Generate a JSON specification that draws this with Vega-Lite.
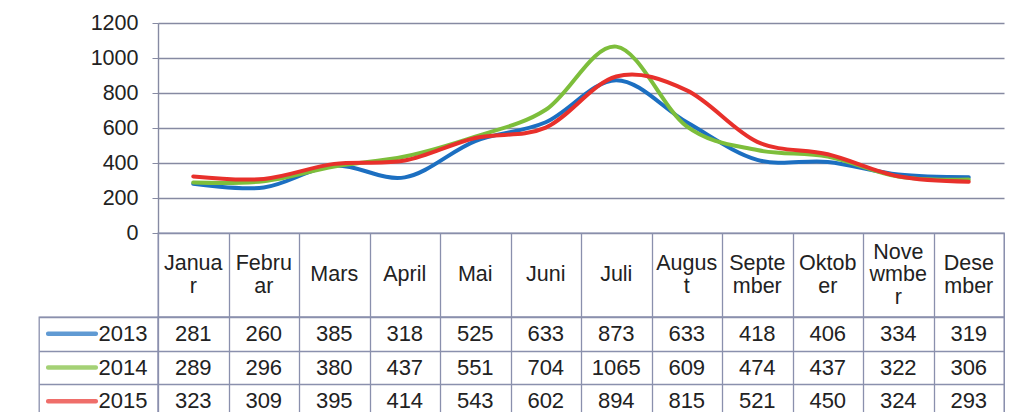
{
  "$schema": "https://vega.github.io/schema/vega-lite/v6.json",
  "padding": {"left": 38, "top": 12, "right": 0, "bottom": 0},
  "background": "white",
  "columns": 2,
  "spacing": 0,
  "bounds": "flush",
  "datasets": {
    "series": [
      {"month": "Januar", "year": "2013", "value": 281},
      {"month": "Februar", "year": "2013", "value": 260},
      {"month": "Mars", "year": "2013", "value": 385},
      {"month": "April", "year": "2013", "value": 318},
      {"month": "Mai", "year": "2013", "value": 525},
      {"month": "Juni", "year": "2013", "value": 633},
      {"month": "Juli", "year": "2013", "value": 873},
      {"month": "August", "year": "2013", "value": 633},
      {"month": "September", "year": "2013", "value": 418},
      {"month": "Oktober", "year": "2013", "value": 406},
      {"month": "November", "year": "2013", "value": 334},
      {"month": "Desember", "year": "2013", "value": 319},
      {"month": "Januar", "year": "2014", "value": 289},
      {"month": "Februar", "year": "2014", "value": 296},
      {"month": "Mars", "year": "2014", "value": 380},
      {"month": "April", "year": "2014", "value": 437},
      {"month": "Mai", "year": "2014", "value": 551},
      {"month": "Juni", "year": "2014", "value": 704},
      {"month": "Juli", "year": "2014", "value": 1065},
      {"month": "August", "year": "2014", "value": 609},
      {"month": "September", "year": "2014", "value": 474},
      {"month": "Oktober", "year": "2014", "value": 437},
      {"month": "November", "year": "2014", "value": 322},
      {"month": "Desember", "year": "2014", "value": 306},
      {"month": "Januar", "year": "2015", "value": 323},
      {"month": "Februar", "year": "2015", "value": 309},
      {"month": "Mars", "year": "2015", "value": 395},
      {"month": "April", "year": "2015", "value": 414},
      {"month": "Mai", "year": "2015", "value": 543},
      {"month": "Juni", "year": "2015", "value": 602},
      {"month": "Juli", "year": "2015", "value": 894},
      {"month": "August", "year": "2015", "value": 815},
      {"month": "September", "year": "2015", "value": 521},
      {"month": "Oktober", "year": "2015", "value": 450},
      {"month": "November", "year": "2015", "value": 324},
      {"month": "Desember", "year": "2015", "value": 293}
    ],
    "months": [
      {"month": "Januar", "header": "Janua\nr"},
      {"month": "Februar", "header": "Febru\nar"},
      {"month": "Mars", "header": "Mars"},
      {"month": "April", "header": "April"},
      {"month": "Mai", "header": "Mai"},
      {"month": "Juni", "header": "Juni"},
      {"month": "Juli", "header": "Juli"},
      {"month": "August", "header": "Augus\nt"},
      {"month": "September", "header": "Septe\nmber"},
      {"month": "Oktober", "header": "Oktob\ner"},
      {"month": "November", "header": "Nove\nwmbe\nr"},
      {"month": "Desember", "header": "Dese\nmber"}
    ],
    "years": [
      {"year": "2013"},
      {"year": "2014"},
      {"year": "2015"}
    ]
  },
  "concat": [
    {
      "width": 119,
      "height": 210,
      "view": {"stroke": null},
      "data": {"values": []},
      "mark": {"type": "text"},
      "encoding": {}
    },
    {
      "width": 846,
      "height": 210,
      "view": {"stroke": null},
      "data": {"name": "series"},
      "mark": {"type": "line", "interpolate": "cardinal", "strokeCap": "round"},
      "encoding": {
        "x": {
          "field": "month", "type": "ordinal",
          "sort": ["Januar","Februar","Mars","April","Mai","Juni","Juli","August","September","Oktober","November","Desember"],
          "scale": {"type": "point", "padding": 0.5},
          "axis": null
        },
        "y": {
          "field": "value", "type": "quantitative",
          "scale": {"domain": [0, 1200], "nice": false},
          "axis": {
            "values": [0, 200, 400, 600, 800, 1000, 1200],
            "format": "d",
            "title": null,
            "grid": true,
            "gridColor": "#868aa2",
            "gridWidth": 1.4,
            "domain": true,
            "domainColor": "#868aa2",
            "domainWidth": 1.4,
            "tickColor": "#868aa2",
            "tickSize": 6,
            "labelPadding": 14,
            "labelFont": "Liberation Sans",
            "labelFontSize": 21.5,
            "labelColor": "#222222"
          }
        },
        "color": {
          "field": "year", "type": "nominal",
          "scale": {"domain": ["2013","2014","2015"], "range": ["#1c6fc1","#7dbe3b","#e8302b"]},
          "legend": null
        },
        "strokeWidth": {
          "field": "year", "type": "ordinal",
          "scale": {"domain": ["2013","2014","2015"], "range": [4, 4, 6.5]},
          "legend": null
        }
      }
    },
    {
      "width": 119,
      "height": 84,
      "view": {"stroke": null},
      "data": {"values": []},
      "mark": {"type": "text"},
      "encoding": {}
    },
    {
      "width": 846,
      "height": 84,
      "view": {"stroke": "#8a90ad", "strokeWidth": 1.3},
      "data": {"name": "months"},
      "encoding": {
        "x": {
          "field": "month", "type": "nominal",
          "sort": ["Januar","Februar","Mars","April","Mai","Juni","Juli","August","September","Oktober","November","Desember"],
          "scale": {"paddingInner": 0, "paddingOuter": 0},
          "axis": {"title": null, "labels": false, "ticks": false, "domain": false, "grid": true, "tickBand": "extent", "gridColor": "#8a90ad", "gridWidth": 1.3}
        },
        "text": {"field": "header"}
      },
      "layer": [
        {
          "transform": [{"filter": "length(split(datum.header, '\\n')) == 1"}],
          "mark": {"type": "text", "font": "Liberation Sans", "fontSize": 21.5, "color": "#222222", "lineBreak": "\n", "lineHeight": 23, "baseline": "middle", "align": "center"}
        },
        {
          "transform": [{"filter": "length(split(datum.header, '\\n')) == 2"}],
          "mark": {"type": "text", "font": "Liberation Sans", "fontSize": 21.5, "color": "#222222", "lineBreak": "\n", "lineHeight": 23, "baseline": "middle", "align": "center", "dy": -11.5}
        },
        {
          "transform": [{"filter": "length(split(datum.header, '\\n')) == 3"}],
          "mark": {"type": "text", "font": "Liberation Sans", "fontSize": 21.5, "color": "#222222", "lineBreak": "\n", "lineHeight": 22.5, "baseline": "middle", "align": "center", "dy": -22.5}
        }
      ]
    },
    {
      "width": 119,
      "height": 101,
      "view": {"stroke": "#8a90ad", "strokeWidth": 1.3},
      "data": {"name": "years"},
      "encoding": {
        "y": {
          "field": "year", "type": "nominal",
          "scale": {"paddingInner": 0, "paddingOuter": 0},
          "axis": {"title": null, "labels": false, "ticks": false, "domain": false, "grid": true, "tickBand": "extent", "gridColor": "#8a90ad", "gridWidth": 1.3}
        }
      },
      "layer": [
        {
          "mark": {"type": "tick", "orient": "horizontal", "size": 52, "thickness": 4.5, "xOffset": -26.5, "cornerRadius": 2},
          "encoding": {
            "color": {
              "field": "year", "type": "nominal",
              "scale": {"domain": ["2013","2014","2015"], "range": ["#1c6fc1","#7dbe3b","#e8302b"]},
              "legend": null
            }
          }
        },
        {
          "mark": {"type": "text", "font": "Liberation Sans", "fontSize": 22, "color": "#222222", "align": "left", "baseline": "middle"},
          "encoding": {"text": {"field": "year"}}
        }
      ]
    },
    {
      "width": 846,
      "height": 101,
      "view": {"stroke": "#8a90ad", "strokeWidth": 1.3},
      "data": {"name": "series"},
      "mark": {"type": "text", "font": "Liberation Sans", "fontSize": 22, "color": "#222222", "baseline": "middle", "align": "center"},
      "encoding": {
        "x": {
          "field": "month", "type": "nominal",
          "sort": ["Januar","Februar","Mars","April","Mai","Juni","Juli","August","September","Oktober","November","Desember"],
          "scale": {"paddingInner": 0, "paddingOuter": 0},
          "axis": {"title": null, "labels": false, "ticks": false, "domain": false, "grid": true, "tickBand": "extent", "gridColor": "#8a90ad", "gridWidth": 1.3}
        },
        "y": {
          "field": "year", "type": "nominal",
          "scale": {"paddingInner": 0, "paddingOuter": 0},
          "axis": {"title": null, "labels": false, "ticks": false, "domain": false, "grid": true, "tickBand": "extent", "gridColor": "#8a90ad", "gridWidth": 1.3}
        },
        "text": {"field": "value"}
      }
    }
  ]
}
